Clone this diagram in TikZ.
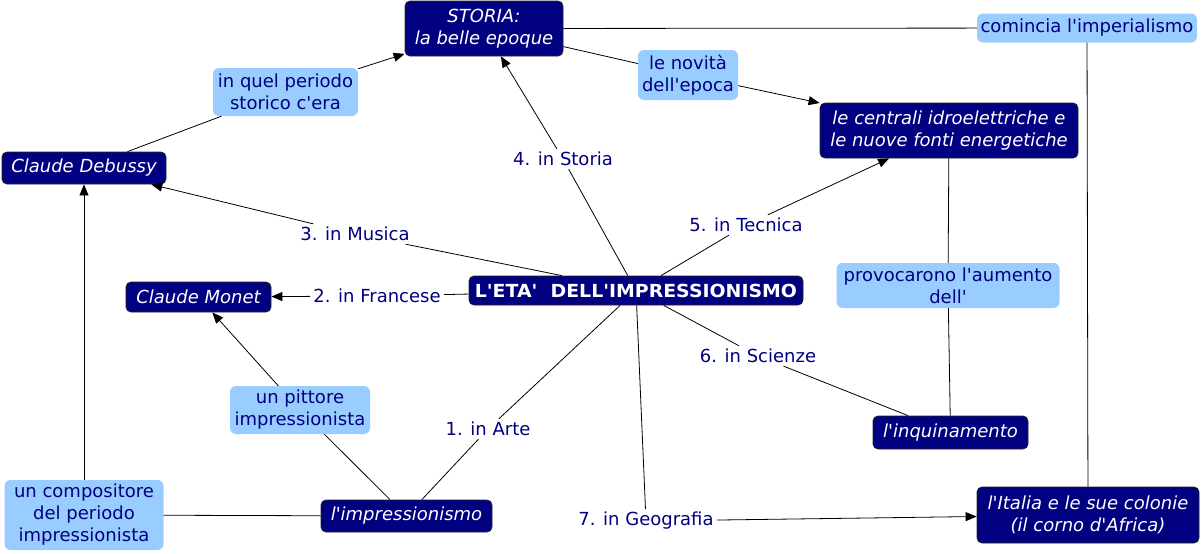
\documentclass[tikz,border=0pt]{standalone}
\usepackage{fontspec}
\setmainfont{DejaVu Sans}[Ligatures=TeXOff]
\usetikzlibrary{arrows.meta}
\definecolor{navy}{RGB}{0,0,128}
\definecolor{lightb}{RGB}{153,204,255}
\begin{document}
\begin{tikzpicture}[x=1pt,y=-1pt,
  dark/.style={draw=black!85, fill=navy, text=white, rounded corners=5pt, font=\fontsize{18}{22}\selectfont\itshape, align=center, inner sep=2pt, line width=0.8pt},
  light/.style={fill=lightb, text=navy, rounded corners=6pt, font=\fontsize{18}{22}\selectfont, align=center, inner sep=2pt},
  lab/.style={text=navy, font=\fontsize{18}{22}\selectfont, inner sep=3pt},
  con/.style={draw=black, line width=0.8pt},
  arr/.style={con, -{Triangle[length=11pt,width=9pt]}}]
\useasboundingbox (0,0) rectangle (1202,554);
% concept nodes
\node[dark, minimum width=158, minimum height=55] (storia) at (484,28.5) {STORIA:\\la belle epoque};
\node[dark, minimum width=164, minimum height=32] (debussy) at (84,168) {Claude Debussy};
\node[dark, minimum width=145, minimum height=30] (monet) at (198.5,297) {Claude Monet};
\node[dark, minimum width=334, minimum height=29, font=\fontsize{18}{22}\selectfont\bfseries] (main) at (636,290.5) {\scalebox{1.05}[1]{L'ETA'\ \ DELL'IMPRESSIONISMO}};
\node[dark, minimum width=258, minimum height=55] (centrali) at (949,130.5) {le centrali idroelettriche e\\le nuove fonti energetiche};
\node[dark, minimum width=155, minimum height=33] (inquin) at (950.5,432.5) {l'inquinamento};
\node[dark, minimum width=222, minimum height=56] (italia) at (1088,515) {l'Italia e le sue colonie\\(il corno d'Africa)};
\node[dark, minimum width=171, minimum height=32] (impress) at (406.5,516) {l'impressionismo};
% linking phrases
\node[light, minimum width=145, minimum height=48] (periodo) at (285.5,92) {in quel periodo\\storico c'era};
\node[light, minimum width=100, minimum height=50] (novita) at (688,75) {le novità\\dell'epoca};
\node[light, minimum width=220, minimum height=29] (comincia) at (1087,28) {comincia l'imperialismo};
\node[light, minimum width=223, minimum height=45] (provoc) at (948,285.5) {provocarono l'aumento\\dell'};
\node[light, minimum width=140, minimum height=48] (pittore) at (300,410) {un pittore\\impressionista};
\node[light, minimum width=159, minimum height=70] (compos) at (84,515) {un compositore\\del periodo\\impressionista};
% numbered labels
\node[lab] (l4) at (563,159) {4. in Storia};
\node[lab] (l3) at (355,234) {3. in Musica};
\node[lab] (l2) at (377,296) {2. in Francese};
\node[lab] (l5) at (746,225) {5. in Tecnica};
\node[lab] (l6) at (758,356) {6. in Scienze};
\node[lab] (l1) at (488,429) {1. in Arte};
\node[lab] (l7) at (646,521) {7. in Geografia};
% connectors
\draw[con] (debussy) -- (periodo);
\draw[arr] (periodo) -- (storia);
\draw[con] (storia) -- (comincia);
\draw[con] (comincia) -- (italia);
\draw[con] (storia) -- (novita);
\draw[arr] (novita) -- (centrali);
\draw[con] (main) -- (l4);
\draw[arr] (l4) -- (storia);
\draw[con] (main) -- (l3);
\draw[arr] (l3) -- (debussy);
\draw[con] (main) -- (l2);
\draw[arr] (l2) -- (monet);
\draw[con] (main) -- (l5);
\draw[arr] (l5) -- (centrali);
\draw[con] (main) -- (l6);
\draw[con] (l6) -- (inquin);
\draw[con] (main) -- (l1);
\draw[con] (l1) -- (impress);
\draw[con] (main) -- (l7);
\draw[arr] (l7) -- (italia);
\draw[con] (centrali) -- (provoc);
\draw[con] (provoc) -- (inquin);
\draw[con] (impress) -- (pittore);
\draw[arr] (pittore) -- (monet);
\draw[con] (impress) -- (compos);
\draw[arr] (compos) -- (debussy);
\end{tikzpicture}
\end{document}
